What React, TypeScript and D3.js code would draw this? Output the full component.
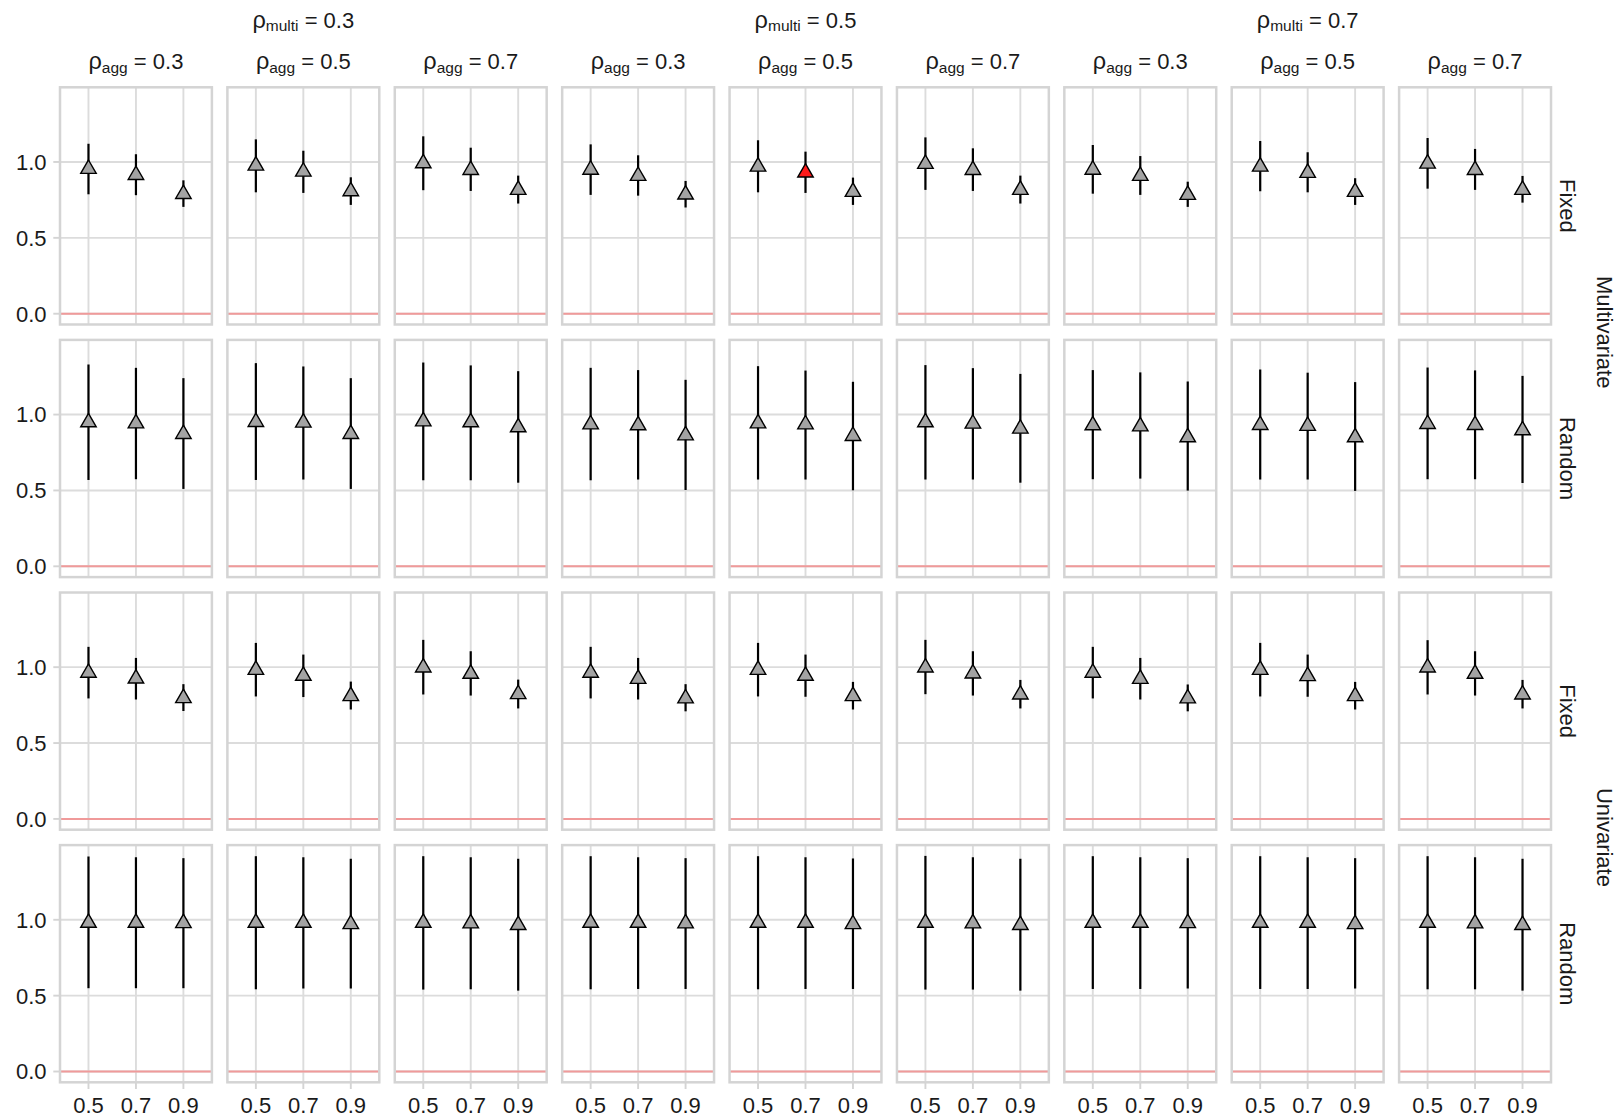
import * as d3 from "d3";

// facet levels
const rhoMulti = ["0.3", "0.5", "0.7"];
const rhoAgg = ["0.3", "0.5", "0.7"];
const models = ["Multivariate", "Univariate"];
const effects = ["Fixed", "Random"];
const xLevels = ["0.5", "0.7", "0.9"];
const yTicks = [0, 0.5, 1];

// each row: 9 panels (rho_multi outer x rho_agg inner), 3 points per panel
const multiFixedEst = [
  [0.954, 0.914, 0.789], [0.976, 0.936, 0.807], [0.991, 0.947, 0.816],
  [0.949, 0.908, 0.785], [0.969, 0.93, 0.803], [0.987, 0.947, 0.816],
  [0.949, 0.908, 0.783], [0.969, 0.928, 0.803], [0.989, 0.947, 0.816],
];
const multiFixedLo = [
  [0.787, 0.781, 0.704], [0.8, 0.796, 0.717], [0.814, 0.809, 0.726],
  [0.783, 0.778, 0.7], [0.8, 0.796, 0.717], [0.816, 0.809, 0.726],
  [0.791, 0.783, 0.704], [0.807, 0.8, 0.717], [0.824, 0.816, 0.732],
];
const multiFixedHi = [
  [1.12, 1.051, 0.879], [1.149, 1.074, 0.899], [1.169, 1.094, 0.91],
  [1.116, 1.044, 0.875], [1.143, 1.068, 0.897], [1.162, 1.09, 0.91],
  [1.112, 1.039, 0.87], [1.138, 1.064, 0.893], [1.158, 1.086, 0.908],
];

const multiRandomEst = [
  [0.949, 0.942, 0.872], [0.951, 0.947, 0.872], [0.955, 0.949, 0.916],
  [0.935, 0.929, 0.863], [0.942, 0.935, 0.859], [0.949, 0.94, 0.907],
  [0.929, 0.922, 0.85], [0.931, 0.925, 0.85], [0.938, 0.931, 0.896],
];
const multiRandomLo = [
  [0.569, 0.574, 0.51], [0.569, 0.572, 0.51], [0.567, 0.567, 0.551],
  [0.567, 0.572, 0.503], [0.572, 0.572, 0.501], [0.572, 0.572, 0.551],
  [0.574, 0.578, 0.499], [0.572, 0.572, 0.497], [0.574, 0.574, 0.549],
];
const multiRandomHi = [
  [1.33, 1.308, 1.24], [1.339, 1.317, 1.24], [1.343, 1.324, 1.286],
  [1.308, 1.293, 1.229], [1.319, 1.29, 1.216], [1.326, 1.306, 1.268],
  [1.293, 1.278, 1.218], [1.297, 1.276, 1.214], [1.31, 1.291, 1.255],
];

const uniFixedEst = [
  [0.963, 0.925, 0.796], [0.982, 0.943, 0.809], [0.998, 0.956, 0.822],
  [0.963, 0.923, 0.794], [0.982, 0.943, 0.809], [0.998, 0.958, 0.82],
  [0.963, 0.923, 0.794], [0.982, 0.941, 0.809], [0.998, 0.956, 0.82],
];
const uniFixedLo = [
  [0.794, 0.787, 0.711], [0.807, 0.803, 0.721], [0.82, 0.813, 0.728],
  [0.794, 0.787, 0.709], [0.807, 0.805, 0.721], [0.822, 0.813, 0.728],
  [0.794, 0.787, 0.709], [0.807, 0.805, 0.721], [0.82, 0.813, 0.728],
];
const uniFixedHi = [
  [1.134, 1.061, 0.888], [1.16, 1.083, 0.905], [1.18, 1.105, 0.918],
  [1.134, 1.061, 0.888], [1.16, 1.083, 0.903], [1.18, 1.105, 0.916],
  [1.134, 1.061, 0.886], [1.16, 1.083, 0.903], [1.178, 1.105, 0.916],
];

const uniRandomEst = [
  [0.98, 0.98, 0.978], [0.98, 0.98, 0.971], [0.98, 0.976, 0.965],
  [0.98, 0.98, 0.976], [0.98, 0.98, 0.971], [0.98, 0.976, 0.965],
  [0.98, 0.98, 0.978], [0.98, 0.98, 0.971], [0.98, 0.976, 0.965],
];
const uniRandomLo = [
  [0.549, 0.549, 0.549], [0.542, 0.547, 0.547], [0.54, 0.542, 0.533],
  [0.542, 0.544, 0.544], [0.542, 0.544, 0.544], [0.54, 0.54, 0.533],
  [0.544, 0.544, 0.547], [0.544, 0.544, 0.547], [0.542, 0.542, 0.533],
];
const uniRandomHi = [
  [1.417, 1.412, 1.406], [1.419, 1.412, 1.402], [1.419, 1.412, 1.402],
  [1.419, 1.412, 1.406], [1.419, 1.412, 1.404], [1.421, 1.412, 1.402],
  [1.419, 1.412, 1.406], [1.419, 1.412, 1.406], [1.419, 1.412, 1.402],
];

// the one highlighted estimate (row, panel, point)
const highlight = [0, 4, 1];

const rows = [
  { model: 0, effect: 0, est: multiFixedEst, lo: multiFixedLo, hi: multiFixedHi },
  { model: 0, effect: 1, est: multiRandomEst, lo: multiRandomLo, hi: multiRandomHi },
  { model: 1, effect: 0, est: uniFixedEst, lo: uniFixedLo, hi: uniFixedHi },
  { model: 1, effect: 1, est: uniRandomEst, lo: uniRandomLo, hi: uniRandomHi },
];

const W = 1618;
const H = 1119;
const FONT = "'Liberation Sans', Arial, Helvetica, sans-serif";
const FS = 22;
const SUB = 15.5;
const TXT = "#1A1A1A";
const GRID = "#DCDCDC";
const BORDER = "#D4D4D4";

export default function App() {
  const col = d3.scaleBand<number>().domain(d3.range(9)).range([60, 1551]).paddingInner(0.0926);
  const row = d3.scaleBand<number>().domain(d3.range(4)).range([87.3, 1082.3]).paddingInner(0.061);
  const pw = col.bandwidth();
  const ph = row.bandwidth();

  const all = [0, ...rows.flatMap((r) => [...r.lo.flat(), ...r.hi.flat()])];
  const [vMin, vMax] = d3.extent(all) as [number, number];
  const pad = (vMax - vMin) * 0.05;
  const y = d3.scaleLinear().domain([vMin - pad, vMax + pad]).range([ph, 0]);
  const x = d3.scalePoint<string>().domain(xLevels).range([0, pw]).padding(0.6);
  const tri = d3.symbol(d3.symbolTriangle, 104)() as string;

  const panels: JSX.Element[] = [];
  rows.forEach((r, ri) => {
    d3.range(9).forEach((ci) => {
      const px = col(ci)!;
      const py = row(ri)!;
      panels.push(
        <g key={`p${ri}-${ci}`} transform={`translate(${px},${py})`}>
          {yTicks.map((t) => (
            <line key={`h${t}`} x1={0} x2={pw} y1={y(t)} y2={y(t)} stroke={GRID} strokeWidth={1.9} />
          ))}
          {xLevels.map((l) => (
            <line key={`v${l}`} x1={x(l)} x2={x(l)} y1={0} y2={ph} stroke={GRID} strokeWidth={1.9} />
          ))}
          <line x1={0} x2={pw} y1={y(0)} y2={y(0)} stroke="#F09A9A" strokeWidth={2} />
          {xLevels.map((l, k) => (
            <line key={`e${l}`} x1={x(l)} x2={x(l)} y1={y(r.lo[ci][k])} y2={y(r.hi[ci][k])} stroke="#000" strokeWidth={2.2} />
          ))}
          {xLevels.map((l, k) => {
            const hot = highlight[0] === ri && highlight[1] === ci && highlight[2] === k;
            return (
              <path key={`t${l}`} d={tri} transform={`translate(${x(l)},${y(r.est[ci][k])})`}
                fill={hot ? "#FF1A1A" : "#A3A3A3"} stroke="#000" strokeWidth={1.4} strokeLinejoin="miter" />
            );
          })}
          <rect x={0} y={0} width={pw} height={ph} fill="none" stroke={BORDER} strokeWidth={2.5} />
        </g>
      );
    });
  });

  // y axis labels and ticks for each row
  const yAxes = rows.map((_, ri) => (
    <g key={`ya${ri}`} transform={`translate(0,${row(ri)!})`}>
      {yTicks.map((t) => (
        <g key={t}>
          <line x1={53.3} x2={60} y1={y(t)} y2={y(t)} stroke={BORDER} strokeWidth={1.9} />
          <text x={46.5} y={y(t) + 7.9} textAnchor="end" fontSize={FS} fill={TXT}>{t.toFixed(1)}</text>
        </g>
      ))}
    </g>
  ));

  const bottom = row(3)! + ph;
  const xAxes = d3.range(9).map((ci) => (
    <g key={`xa${ci}`} transform={`translate(${col(ci)!},${bottom})`}>
      {xLevels.map((l) => (
        <g key={l}>
          <line x1={x(l)} x2={x(l)} y1={0} y2={6.7} stroke={BORDER} strokeWidth={1.9} />
          <text x={x(l)} y={30.4} textAnchor="middle" fontSize={FS} fill={TXT}>{l}</text>
        </g>
      ))}
    </g>
  ));

  // top strips: inner rho_agg, outer rho_multi (centered over each group of 3)
  const topStrips = d3.range(9).map((ci) => (
    <text key={`sa${ci}`} x={col(ci)! + pw / 2} y={69.3} textAnchor="middle" fontSize={FS} fill={TXT}>
      <tspan fontSize={FS + 1.5}>ρ</tspan><tspan fontSize={SUB} dy={3.4}>agg</tspan>
      <tspan dy={-3.4}>{` = ${rhoAgg[ci % 3]}`}</tspan>
    </text>
  ));
  const outerStrips = rhoMulti.map((m, gi) => (
    <text key={`sm${gi}`} x={col(gi * 3 + 1)! + pw / 2} y={27.5} textAnchor="middle" fontSize={FS} fill={TXT}>
      <tspan fontSize={FS + 1.5}>ρ</tspan><tspan fontSize={SUB} dy={3.4}>multi</tspan>
      <tspan dy={-3.4}>{` = ${m}`}</tspan>
    </text>
  ));

  // right strips: effect per row, model per pair of rows
  const rightStrips = rows.map((r, ri) => (
    <text key={`se${ri}`} transform={`translate(1560,${row(ri)! + ph / 2}) rotate(90)`} textAnchor="middle"
      fontSize={FS} fill={TXT}>{effects[r.effect]}</text>
  ));
  const outerRight = models.map((m, mi) => {
    const cy = (row(mi * 2)! + row(mi * 2 + 1)! + ph) / 2;
    return (
      <text key={`sg${mi}`} transform={`translate(1596.5,${cy}) rotate(90)`} textAnchor="middle"
        fontSize={FS} fill={TXT}>{m}</text>
    );
  });

  return (
    <svg width={W} height={H} style={{ position: "absolute", left: 0, top: 0, background: "#fff" }}
      fontFamily={FONT}>
      <rect width={W} height={H} fill="#fff" />
      {panels}
      {yAxes}
      {xAxes}
      {topStrips}
      {outerStrips}
      {rightStrips}
      {outerRight}
    </svg>
  );
}
